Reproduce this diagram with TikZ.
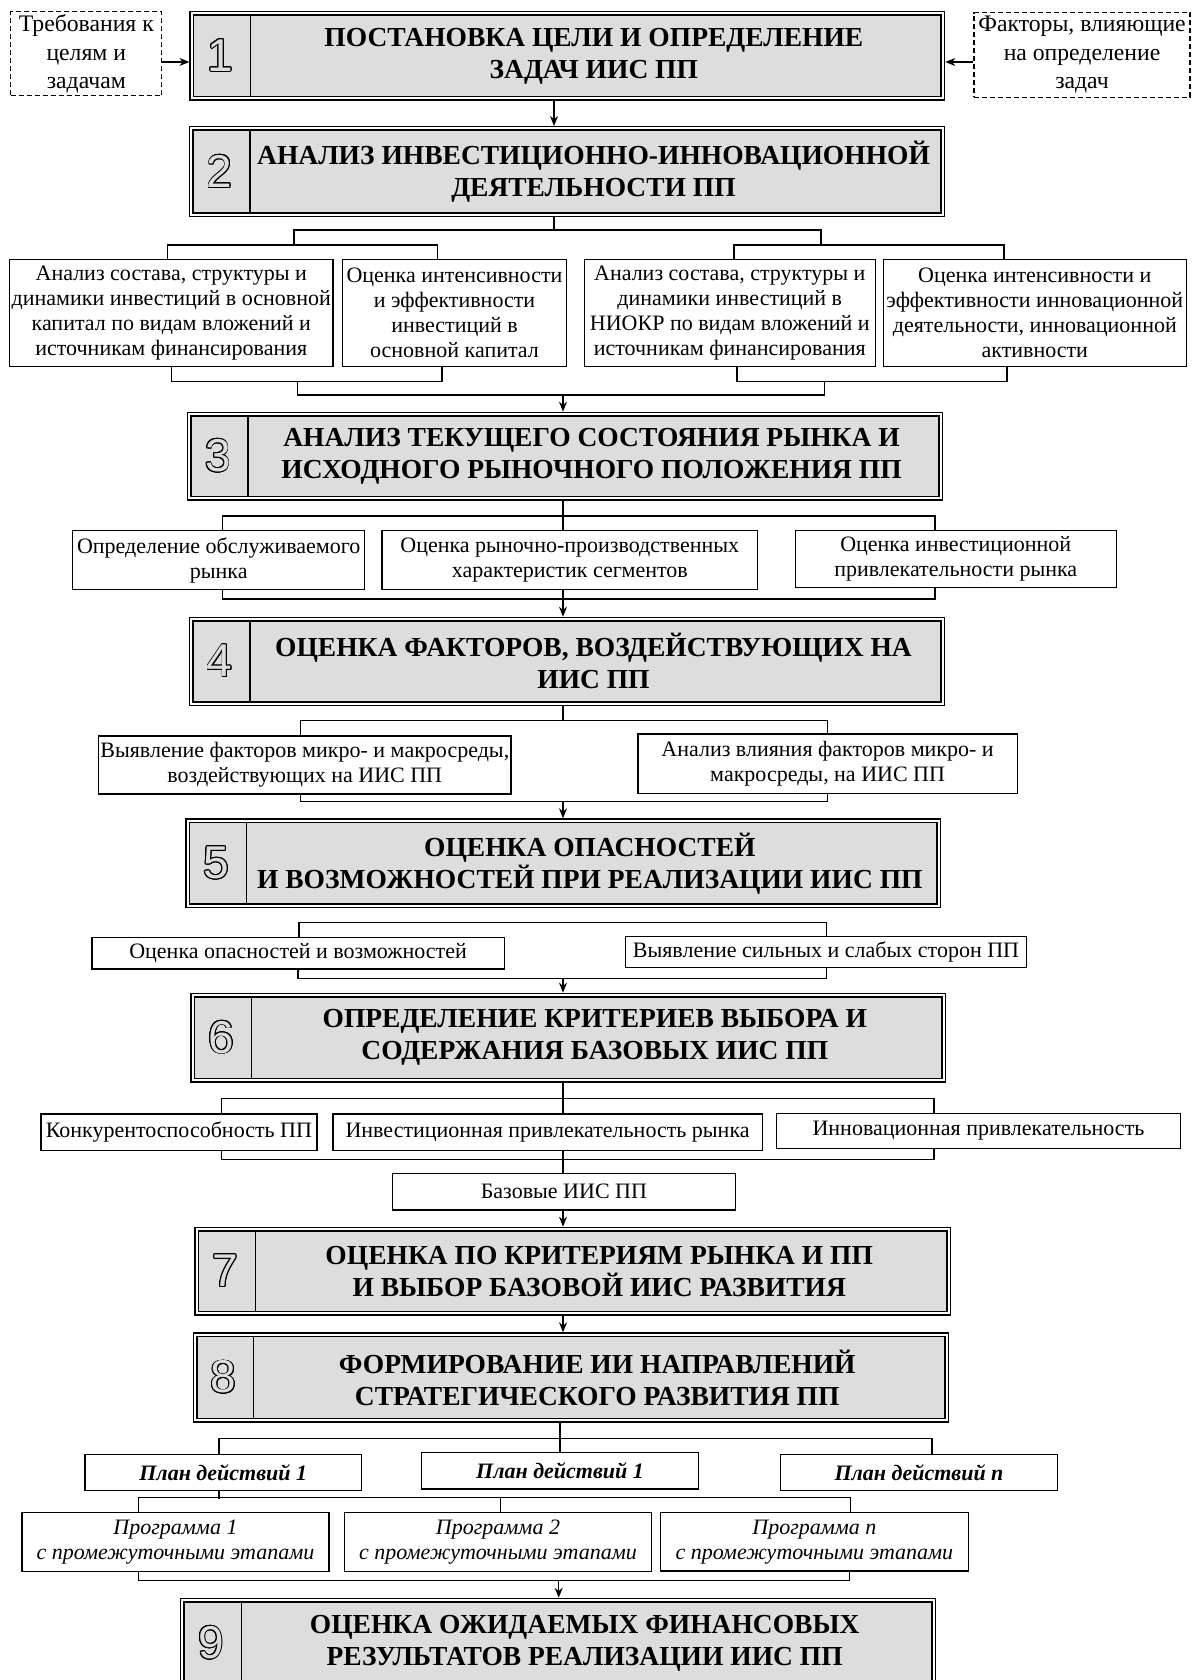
\documentclass[tikz,border=0pt]{standalone}
\usepackage{fontspec}
\setmainfont{Liberation Serif}
\newfontfamily\digitfont{Liberation Sans}
\usepackage{xcolor}
\definecolor{stGray}{RGB}{221,221,221}
\usepackage{contour}
\contourlength{0.9pt}
\usepackage{tikz}
\usetikzlibrary{arrows.meta,calc,fit,backgrounds}

\begin{document}
\begin{tikzpicture}[x=1pt,y=-1pt,
  stage/.style={draw,line width=1.5pt,double=white,double distance=2pt,fill=stGray,
    inner sep=0pt,outer sep=2.5pt},
  s/.style={draw,line width=1.4pt,fill=white,align=center,inner sep=1pt,
    font=\fontsize{22}{25}\selectfont},
  dsh/.style={s,line width=1.2pt,dash pattern=on 5pt off 3pt,
    font=\fontsize{23.7}{28.5}\selectfont},
  hd/.style={align=center,inner sep=0pt,font=\fontsize{27.5}{32}\selectfont\bfseries},
  num/.style={inner sep=0pt,font=\fontsize{46}{46}\selectfont\digitfont},
  ln/.style={line width=1.4pt},
  a/.style={ln,-{Stealth[length=10pt,width=8pt]}}]
  \useasboundingbox (0,0) rectangle (1197,1680);
  \clip (0,0) rectangle (1197,1680);
  \coordinate (s1) at (554,0); \coordinate (s2) at (563,0);
  \coordinate (s3) at (560,0); \coordinate (s4) at (558.7,0);
  \coordinate (yin) at (0,62);
  \coordinate (m2a) at (294,0); \coordinate (m2b) at (821,0);
  \coordinate (m2c) at (297.7,395); \coordinate (m2d) at (824.7,395);

  \foreach \k/\xa/\ya/\xb/\yb/\txt in {
    1/191.9/13.5/942.8/98.2/{ПОСТАНОВКА ЦЕЛИ И ОПРЕДЕЛЕНИЕ\\ЗАДАЧ ИИС ПП},
    2/191.2/128.5/942.8/214.8/{АНАЛИЗ ИНВЕСТИЦИОННО-ИННОВАЦИОННОЙ\\ДЕЯТЕЛЬНОСТИ ПП},
    3/189.3/414.2/940.8/498.2/{АНАЛИЗ ТЕКУЩЕГО СОСТОЯНИЯ РЫНКА И\\ИСХОДНОГО РЫНОЧНОГО ПОЛОЖЕНИЯ ПП},
    4/191.2/619.2/942.8/703.5/{ОЦЕНКА ФАКТОРОВ, ВОЗДЕЙСТВУЮЩИХ НА\\ИИС ПП},
    5/187.7/820.8/938.9/905.8/{ОЦЕНКА ОПАСНОСТЕЙ\\И ВОЗМОЖНОСТЕЙ ПРИ РЕАЛИЗАЦИИ ИИС ПП},
    6/192.7/995.2/943.9/1080.2/{ОПРЕДЕЛЕНИЕ КРИТЕРИЕВ ВЫБОРА И\\СОДЕРЖАНИЯ БАЗОВЫХ ИИС ПП},
    7/196.9/1229.2/948.5/1313.2/{ОЦЕНКА ПО КРИТЕРИЯМ РЫНКА И ПП\\И ВЫБОР БАЗОВОЙ ИИС РАЗВИТИЯ},
    8/195/1334.8/946.5/1420.2/{ФОРМИРОВАНИЕ ИИ НАПРАВЛЕНИЙ\\СТРАТЕГИЧЕСКОГО РАЗВИТИЯ ПП},
    9/182.4/1600.2/933.9/1686/{ОЦЕНКА ОЖИДАЕМЫХ ФИНАНСОВЫХ\\РЕЗУЛЬТАТОВ РЕАЛИЗАЦИИ ИИС ПП}}{
    \node[stage,fit={(\xa,\ya)(\xb,\yb)}] (b\k) {};
    \draw[line width=1.3pt] ([xshift=61.3pt,yshift=-5pt]b\k.north west)
      -- ([xshift=61.3pt,yshift=5pt]b\k.south west);
    \node[num] (n\k) at ([xshift=31pt]b\k.west) {\contour{black}{\textcolor{stGray}{\k}}};
    \node[hd] (h\k) at ({(\xa+\xb+61)/2-4},{(\ya+\yb)/2}) {\txt};
  }

  \node[dsh,minimum width=151pt,minimum height=84pt] (q1) at (86.3,53.9) {Требования к\\целям и\\задачам};
  \node[dsh,minimum width=216pt,minimum height=84.6pt] (q2) at (1082,55) {Факторы, влияющие\\на определение\\задач};

  \node[s,minimum width=323.4pt,minimum height=107.4pt] (r2a) at (171.3,313) {Анализ состава, структуры и\\динамики инвестиций в основной\\капитал по видам вложений и\\источникам финансирования};
  \node[s,minimum width=224pt,minimum height=107.4pt] (r2b) at (454.5,313) {Оценка интенсивности\\и эффективности\\инвестиций в\\основной капитал};
  \node[s,minimum width=290.8pt,minimum height=107.4pt] (r2c) at (729.8,313) {Анализ состава, структуры и\\динамики инвестиций в\\НИОКР по видам вложений и\\источникам финансирования};
  \node[s,minimum width=303pt,minimum height=107.4pt] (r2d) at (1034.8,313) {Оценка интенсивности и\\эффективности инновационной\\деятельности, инновационной\\активности};

  \node[s,minimum width=292pt,minimum height=58.6pt] (r3a) at (218.7,560) {Определение обслуживаемого\\рынка};
  \node[s,minimum width=375.8pt,minimum height=58.6pt] (r3b) at (569.8,560) {Оценка рыночно-производственных\\характеристик сегментов};
  \node[s,minimum width=321pt,minimum height=56.6pt] (r3c) at (955.75,559) {Оценка инвестиционной\\привлекательности рынка};

  \node[s,minimum width=412.2pt,minimum height=58pt] (r4a) at (304.8,765) {Выявление факторов микро- и макросреды,\\воздействующих на ИИС ПП};
  \node[s,minimum width=379.2pt,minimum height=59.3pt] (r4b) at (827.6,763.7) {Анализ влияния факторов микро- и\\макросреды, на ИИС ПП};

  \node[s,minimum width=412.6pt,minimum height=31.3pt] (r5a) at (298.1,953.3) {Оценка опасностей и возможностей};
  \node[s,minimum width=400.7pt,minimum height=30.6pt] (r5b) at (826,952) {Выявление сильных и слабых сторон ПП};

  \node[s,minimum width=276pt,minimum height=36.7pt] (r6a) at (178.9,1132.3) {Конкурентоспособность ПП};
  \node[s,minimum width=429.3pt,minimum height=36.7pt] (r6b) at (547.6,1132.3) {Инвестиционная привлекательность рынка};
  \node[s,minimum width=404pt,minimum height=35pt] (r6c) at (978.5,1130.8) {Инновационная привлекательность};
  \node[s,minimum width=343.2pt,minimum height=36.7pt] (r6d) at (563.9,1191.7) {Базовые ИИС ПП};

  \node[s,minimum width=276.3pt,minimum height=36.4pt,font=\fontsize{22}{25}\selectfont\bfseries\itshape] (r8a) at (223.2,1472.5) {План действий 1};
  \node[s,minimum width=276.7pt,minimum height=36.7pt,font=\fontsize{22}{25}\selectfont\bfseries\itshape] (r8b) at (560,1470.7) {План действий 1};
  \node[s,minimum width=276.7pt,minimum height=36.4pt,font=\fontsize{22}{25}\selectfont\bfseries\itshape] (r8c) at (919,1472.5) {План действий n};

  \node[s,minimum width=307.3pt,minimum height=59.4pt,font=\fontsize{22}{25}\selectfont\itshape] (p1) at (175.5,1542) {Программа 1\\с промежуточными этапами};
  \node[s,minimum width=307.3pt,minimum height=59.4pt,font=\fontsize{22}{25}\selectfont\itshape] (p2) at (498,1542) {Программа 2\\с промежуточными этапами};
  \node[s,minimum width=307.7pt,minimum height=58.7pt,font=\fontsize{22}{25}\selectfont\itshape] (pn) at (814.4,1541.7) {Программа n\\с промежуточными этапами};

  \begin{scope}[on background layer]
    \draw[a] (q1.east |- yin) -- (b1.west |- yin);
    \draw[a] (q2.west |- yin) -- (b1.east |- yin);
    \draw[a] (b1.south -| s1) -- (b2.north -| s1);

    \draw[ln] (b2.south -| s1) -- ++(0,12.7) coordinate (w1);
    \draw[ln] ([xshift=-4pt]r2a.north) -- ++(0,-13.6) coordinate (w2) -| ([xshift=-17pt]r2b.north);
    \draw[ln] ([xshift=4pt]r2c.north) -- ++(0,-13.6) coordinate (w3) -| ([xshift=-31pt]r2d.north);
    \draw[ln] (w2 -| m2a) |- (w1) -| (w3 -| m2b);
    \draw[ln] (r2a.south) -- ++(0,14) coordinate (w4) -| ([xshift=-12.5pt]r2b.south);
    \draw[ln] ([xshift=7pt]r2c.south) -- ++(0,14) coordinate (w5) -| ([xshift=-28pt]r2d.south);
    \draw[ln] (w4 -| m2c) -- (m2c) -- (m2d) -- (w5 -| m2d);
    \draw[a] (m2c -| s2) -- (b3.north -| s2);

    \draw[ln] (b3.south -| s2) -- (r3b.north -| s2);
    \draw[ln] ([xshift=4pt]r3a.north) -- ++(0,-14) -| ([xshift=-20.75pt]r3c.north);
    \draw[ln] ([xshift=4pt]r3a.south) -- ++(0,9) -| ([xshift=-20.75pt]r3c.south);
    \draw[a] (r3b.south -| s2) -- (b4.north -| s2);

    \draw[ln] ([xshift=-4.4pt]r4a.north) -- ++(0,-15) coordinate (w6) -| (r4b.north);
    \draw[ln] (b4.south -| s2) -- (w6 -| s2);
    \draw[ln] ([xshift=-4.4pt]r4a.south) -- ++(0,7) coordinate (w7) -| (r4b.south);
    \draw[a] (w7 -| s2) -- (b5.north -| s2);

    \draw[ln] ([xshift=1pt]r5a.north) -- ++(0,-14.4) -| ([xshift=0.6pt]r5b.north);
    \draw[ln] (r5a.south) -- ++(0,8.7) coordinate (w8) -| ([xshift=0.6pt]r5b.south);
    \draw[a] (w8 -| s2) -- (b6.north -| s2);

    \draw[ln] (b6.south -| s2) -- (r6b.north -| s2);
    \draw[ln] ([xshift=42.3pt]r6a.north) -- ++(0,-14.7) -| ([xshift=-44.7pt]r6c.north);
    \draw[ln] ([xshift=42.3pt]r6a.south) -- ++(0,8.3) -| ([xshift=-44.7pt]r6c.south);
    \draw[ln] (r6b.south -| s2) -- (r6d.north -| s2);
    \draw[a] (r6d.south -| s2) -- (b7.north -| s2);
    \draw[a] (b7.south -| s2) -- (b8.north -| s2);

    \draw[ln] (b8.south -| s3) -- (r8b.north -| s3);
    \draw[ln] ([xshift=-4.3pt]r8a.north) -- ++(0,-15.3) -| ([xshift=12.9pt]r8c.north);
    \draw[ln] ([xshift=-4.3pt]r8a.south) -- ++(0,7.6);
    \draw[ln] ([xshift=-37pt]p1.north) -- ++(0,-14) -| ([xshift=36pt]pn.north);
    \draw[ln] ([xshift=2.6pt]p2.north) -- ++(0,-14);
    \draw[ln] ([xshift=-37pt]p1.south) -- ++(0,8.3) coordinate (w9) -| ([xshift=35.3pt]pn.south);
    \draw[a] (w9 -| s4) -- (b9.north -| s4);
  \end{scope}
\end{tikzpicture}
\end{document}
